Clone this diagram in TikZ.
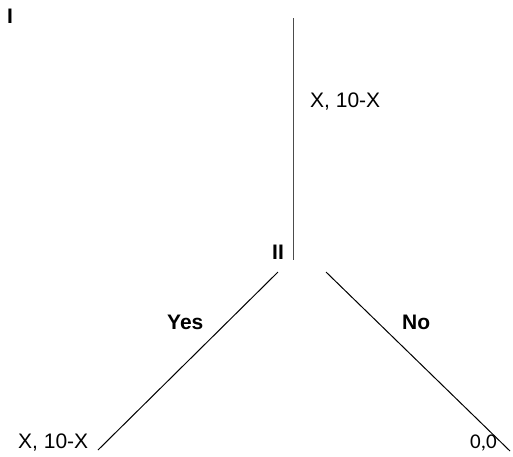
\documentclass[tikz,border=0pt]{standalone}
\usepackage{fontspec}
\setmainfont{Liberation Sans}
\newfontfamily\calib{Carlito}
\begin{document}
\begin{tikzpicture}[x=1pt,y=-1pt,
  lbl/.style={inner sep=0pt,anchor=base west,font=\fontsize{21}{25}\selectfont},
  blbl/.style={lbl,font=\fontsize{21}{25}\selectfont\bfseries},
  edge/.style={line width=1pt,black},
  stem/.style={line width=1pt,black!70}]
\useasboundingbox (0,0) rectangle (513,456);
% labels
\node[blbl] (p1) at (7,23.5) {I};
\node[blbl] (p2) at (272,259.5) {II};
\node[lbl] (pay1) at (310,107.5) {X, 10-X};
\node[blbl] (yes) at (167,329) {Yes};
\node[blbl] (no) at (402,329) {No};
\node[lbl] (payL) at (18,448) {X, 10-X};
\node[inner sep=0pt,anchor=base west,font=\fontsize{21}{25}\selectfont\calib] (payR) at (470,448) {0,0};
% tree points
\coordinate (top) at (293,18);
\coordinate (mid) at (293,260);
\coordinate (ls) at (278,272);
\coordinate (le) at (98,450);
\coordinate (rs) at (326,272);
\coordinate (re) at (510,451);
\draw[stem] (top) -- (mid);
\draw[edge] (ls) -- (le);
\draw[edge] (rs) -- (re);
\end{tikzpicture}
\end{document}
